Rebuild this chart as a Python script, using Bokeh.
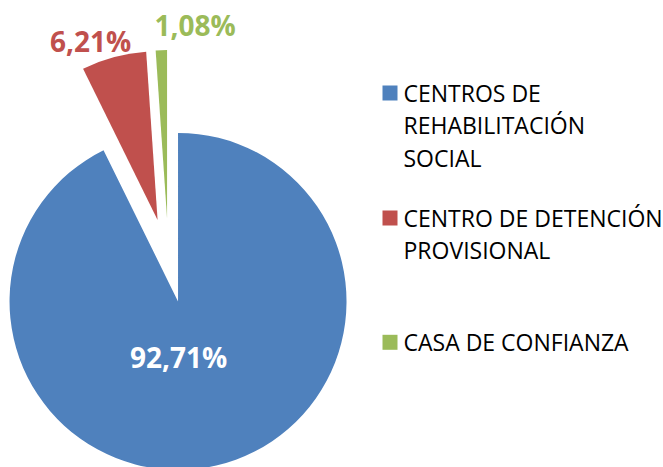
import math
from bokeh.plotting import figure
from bokeh.models import Range1d, ColumnDataSource
from bokeh.embed import file_html
from bokeh.resources import INLINE
from bokeh.core.properties import value

# ---- data ----
categories = ["CENTROS DE REHABILITACIÓN SOCIAL",
              "CENTRO DE DETENCIÓN PROVISIONAL",
              "CASA DE CONFIANZA"]
legend_lines = [["CENTROS DE", "REHABILITACIÓN", "SOCIAL"],
                ["CENTRO DE DETENCIÓN", "PROVISIONAL"],
                ["CASA DE CONFIANZA"]]
shares = [92.71, 6.21, 1.08]
pct_labels = ["92,71%", "6,21%", "1,08%"]
colors = ["#4F81BD", "#C0504D", "#9BBB59"]

# ---- layout (page pixels -> data units, 1:1) ----
W, H = 663, 467
def X(px):
    return px
def Y(py):
    return H - py

cx, cy = X(168), Y(260)
R = 168.5
explode = 42

total = sum(shares)
starts, ends, xs, ys = [], [], [], []
cum = 0.0
for v in shares:
    a0 = math.pi / 2 - 2 * math.pi * cum / total
    a1 = math.pi / 2 - 2 * math.pi * (cum + v) / total
    mid = (a0 + a1) / 2
    starts.append(a1)
    ends.append(a0)
    xs.append(cx + explode * math.cos(mid))
    ys.append(cy + explode * math.sin(mid))
    cum += v

p = figure(width=W, height=H, output_backend="svg", toolbar_location=None,
           x_range=Range1d(0, W), y_range=Range1d(0, H),
           x_axis_type=None, y_axis_type=None, min_border=0)
p.grid.visible = False
p.outline_line_color = None
p.background_fill_color = "white"
p.border_fill_color = "white"

src = ColumnDataSource(dict(x=xs, y=ys, s=starts, e=ends, c=colors))
p.wedge(x="x", y="y", radius=R, start_angle="s", end_angle="e",
        direction="anticlock", fill_color="c", line_color=None, source=src)

# percentage labels
lab_x = [X(178), X(90), X(194.5)]
lab_y = [Y(356.5), Y(40.5), Y(24.5)]
lab_col = ["white", colors[1], colors[2]]
p.text(x=lab_x, y=lab_y, text=pct_labels, text_color=lab_col,
       text_font=value("Open Sans"), text_font_style="bold",
       text_font_size="28px", text_align="center", text_baseline="alphabetic")

# legend
sq_y = [92.5, 217.5, 341.8]
first_base = [92, 217.3, 341]
line_h = 32.6
p.scatter(x=[X(389.5)] * 3, y=[Y(v) for v in sq_y], size=15, marker="square",
          fill_color=colors, line_color=None)
tx, ty, tt = [], [], []
for i, lines in enumerate(legend_lines):
    for j, ln in enumerate(lines):
        tx.append(X(403))
        ty.append(Y(first_base[i] + j * line_h))
        tt.append(ln)
p.text(x=tx, y=ty, text=tt, text_color="#000000",
       text_font=value("Open Sans"), text_font_size="23px",
       text_align="left", text_baseline="alphabetic")

open("out.html", "w").write(file_html(p, INLINE))
